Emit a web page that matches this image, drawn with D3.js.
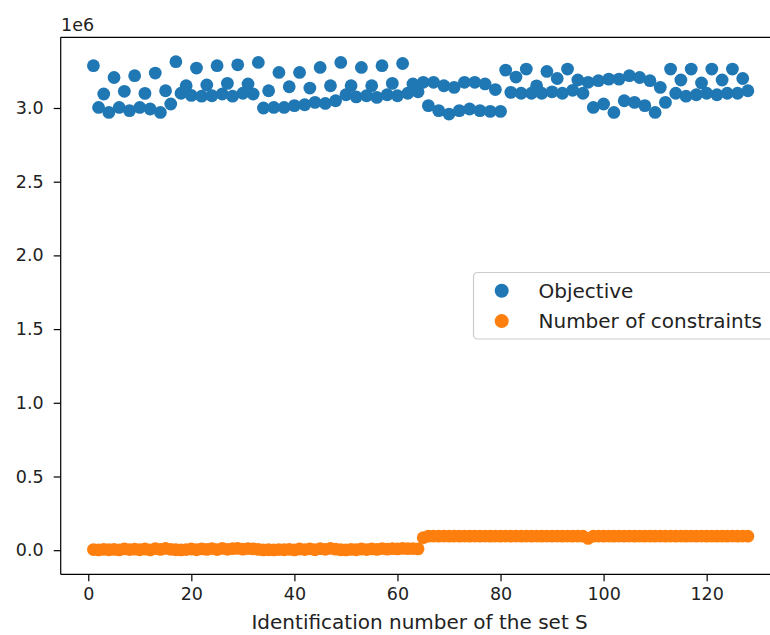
<!DOCTYPE html>
<html>
<head>
<meta charset="utf-8">
<script src="https://cdn.jsdelivr.net/npm/d3@7"></script>
<style>
  body { margin: 0; background: #fff; }
  svg { display: block; font-family: "DejaVu Sans", sans-serif; }
</style>
</head>
<body>
<svg id="chart" width="770" height="635"></svg>
<script>
// Identification number of each set S
const ids = d3.range(1, 129);

// Objective value per set
const objective = [
  3287000, 3004000, 3095000, 2970000, 3207000, 3004000, 3113000, 2982000,
  3219000, 3004000, 3099000, 2993000, 3237000, 2970000, 3117000, 3027000,
  3314000, 3100000, 3151000, 3085000, 3271000, 3080000, 3156000, 3083000,
  3287000, 3095000, 3167000, 3080000, 3293000, 3100000, 3163000, 3095000,
  3309000, 3000000, 3117000, 3004000, 3241000, 3004000, 3144000, 3016000,
  3241000, 3022000, 3135000, 3038000, 3275000, 3031000, 3151000, 3049000,
  3309000, 3090000, 3151000, 3075000, 3275000, 3083000, 3151000, 3072000,
  3287000, 3090000, 3167000, 3083000, 3302000, 3100000, 3163000, 3110000,
  3174000, 3016000, 3174000, 2982000, 3151000, 2959000, 3140000, 2982000,
  3174000, 2993000, 3174000, 2982000, 3163000, 2977000, 3125000, 2977000,
  3257000, 3106000, 3210000, 3100000, 3264000, 3100000, 3150000, 3100000,
  3248000, 3110000, 3200000, 3100000, 3264000, 3120000, 3190000, 3100000,
  3174000, 3004000, 3185000, 3027000, 3196000, 2970000, 3196000, 3049000,
  3219000, 3038000, 3207000, 3016000, 3185000, 2970000, 3140000, 3038000,
  3264000, 3100000, 3190000, 3080000, 3264000, 3090000, 3170000, 3100000,
  3264000, 3090000, 3190000, 3100000, 3264000, 3100000, 3200000, 3117000
];

// Number of constraints per set
const constraints = [
  4000, 2000, 6000, 3000, 5000, 2000, 9000, 4000,
  7000, 3000, 8000, 2000, 10000, 5000, 12000, 6000,
  3000, 2000, 4000, 8000, 3000, 9000, 5000, 11000,
  4000, 12000, 6000, 10000, 12000, 7000, 11000, 9000,
  5000, 2000, 3000, 2000, 4000, 3000, 6000, 2000,
  8000, 4000, 9000, 3000, 10000, 6000, 12000, 7000,
  3000, 2000, 5000, 3000, 8000, 4000, 9000, 5000,
  11000, 7000, 10000, 9000, 12000, 10000, 11000, 9000,
  85000, 95000, 96000, 95000, 96000, 95000, 96000, 95000,
  96000, 95000, 96000, 95000, 96000, 95000, 96000, 95000,
  96000, 95000, 96000, 95000, 96000, 95000, 96000, 95000,
  96000, 95000, 96000, 95000, 96000, 95000, 96000, 95000,
  80000, 95000, 96000, 95000, 96000, 95000, 96000, 95000,
  96000, 95000, 96000, 95000, 96000, 95000, 96000, 95000,
  96000, 95000, 96000, 95000, 96000, 95000, 96000, 95000,
  96000, 95000, 96000, 95000, 96000, 95000, 96000, 95000
];

const xTicks = [0, 20, 40, 60, 80, 100, 120];
const yTicks = [0, 500000, 1000000, 1500000, 2000000, 2500000, 3000000];
const seriesNames = ["Objective", "Number of constraints"];
const colors = ["#1f77b4", "#ff7f0e"];

const svg = d3.select("#chart");
const plot = { left: 60.7, right: 780.6, top: 37.3, bottom: 574.3 };

// matplotlib-like 5% margins
const xPad = (d3.max(ids) - d3.min(ids)) * 0.05;
const x = d3.scaleLinear()
  .domain([d3.min(ids) - xPad, d3.max(ids) + xPad])
  .range([plot.left, plot.right]);

const allY = objective.concat(constraints);
const yPad = (d3.max(allY) - d3.min(allY)) * 0.05;
const y = d3.scaleLinear()
  .domain([d3.min(allY) - yPad, d3.max(allY) + yPad])
  .range([plot.bottom, plot.top]);

// points
[objective, constraints].forEach((vals, k) => {
  svg.append("g")
    .selectAll("circle")
    .data(vals)
    .enter()
    .append("circle")
    .attr("cx", (d, i) => x(ids[i]))
    .attr("cy", d => y(d))
    .attr("r", 6.4)
    .attr("fill", colors[k]);
});

// X-axis
const xAxis = svg.append("g")
  .attr("transform", `translate(0,${plot.bottom})`)
  .call(d3.axisBottom(x).tickValues(xTicks).tickSize(7).tickPadding(6).tickFormat(d3.format("d")));
xAxis.select(".domain").attr("d", `M${plot.left},0H${plot.right}`);

// Y-axis
const yAxis = svg.append("g")
  .attr("transform", `translate(${plot.left},0)`)
  .call(d3.axisLeft(y).tickValues(yTicks).tickSize(7).tickPadding(10).tickFormat(d => (d / 1e6).toFixed(1)));
yAxis.select(".domain").attr("d", `M0,${plot.top}V${plot.bottom}`);

svg.selectAll(".tick text").attr("font-size", 17.5).attr("fill", "#222")
  .attr("font-family", "DejaVu Sans");
svg.selectAll(".tick line").attr("stroke", "#000").attr("stroke-width", 1.2);
svg.selectAll(".domain").attr("stroke", "#000").attr("stroke-width", 1.2);

// top spine
svg.append("line")
  .attr("x1", plot.left).attr("x2", plot.right)
  .attr("y1", plot.top).attr("y2", plot.top)
  .attr("stroke", "#000").attr("stroke-width", 1.2);

// offset text
svg.append("text")
  .attr("x", 61).attr("y", 31)
  .attr("font-size", 17.5).attr("fill", "#222")
  .text("1e6");

// x label
svg.append("text")
  .attr("x", (plot.left + plot.right) / 2 - 1)
  .attr("y", 629)
  .attr("text-anchor", "middle")
  .attr("font-size", 20).attr("fill", "#222")
  .text("Identification number of the set S");

// Legend
const lg = svg.append("g").attr("transform", "translate(473.5,272.5)");
lg.append("rect")
  .attr("width", 310).attr("height", 66.5)
  .attr("rx", 4)
  .attr("fill", "rgba(255,255,255,0.8)")
  .attr("stroke", "#cccccc").attr("stroke-width", 1.2);
seriesNames.forEach((name, k) => {
  const row = lg.append("g").attr("transform", `translate(0,${18.3 + k * 30.3})`);
  row.append("circle").attr("cx", 28.2).attr("cy", 0).attr("r", 7).attr("fill", colors[k]);
  row.append("text").attr("x", 65).attr("y", 7.3)
    .attr("font-size", 20).attr("fill", "#222").text(name);
});
</script>
</body>
</html>
